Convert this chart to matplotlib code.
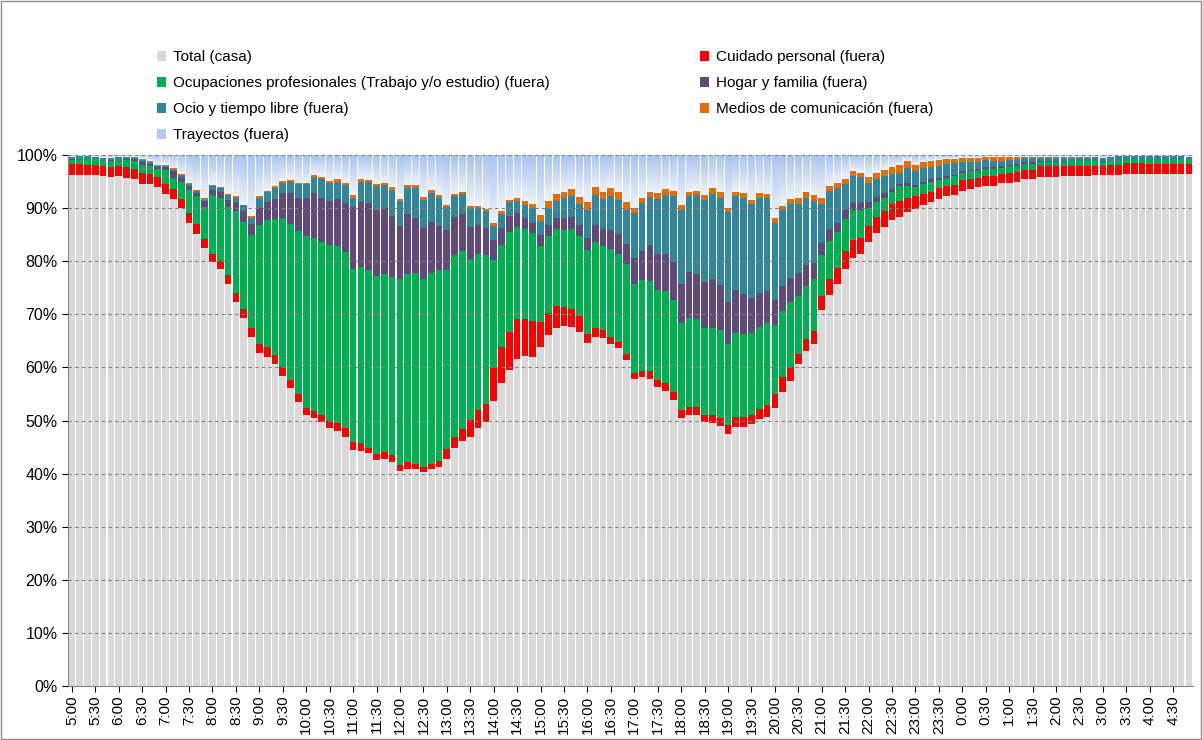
import numpy as np
import matplotlib
matplotlib.use('Agg')
import matplotlib.pyplot as plt
from matplotlib.colors import LinearSegmentedColormap
from matplotlib.patches import Patch, Rectangle
from matplotlib.ticker import FuncFormatter

plt.rcParams['font.family'] = ['Liberation Sans', 'DejaVu Sans']

# franjas de 10 minutos desde las 5:00 hasta las 4:50 (144 barras)
horas = list(range(5, 24)) + list(range(0, 5))
etiquetas = []
for h in horas:
    etiquetas += ['%d:00' % h, '%d:30' % h]

nombres = ['Total (casa)', 'Cuidado personal (fuera)',
           'Ocupaciones profesionales (Trabajo y/o estudio) (fuera)',
           'Hogar y familia (fuera)', 'Ocio y tiempo libre (fuera)',
           'Medios de comunicación (fuera)', 'Trayectos (fuera)']

casa = [96.3, 96.3, 96.3, 96.2, 96.0, 95.8, 96.0, 95.7, 95.5, 94.6, 94.6, 93.9,
        92.6, 91.8, 90.0, 87.2, 85.1, 82.5, 79.8, 78.6, 75.7, 72.3, 69.4, 65.8,
        62.8, 61.9, 60.6, 58.4, 56.2, 53.5, 51.0, 50.5, 49.7, 48.6, 48.0, 46.9,
        44.5, 44.3, 43.8, 42.5, 42.8, 42.2, 40.4, 40.9, 40.8, 40.3, 40.9, 41.3,
        42.8, 44.8, 46.1, 46.9, 48.6, 49.7, 53.7, 57.1, 59.6, 61.6, 62.2, 62.0,
        63.9, 66.1, 67.4, 67.8, 67.7, 66.6, 64.6, 65.7, 65.5, 64.4, 63.6, 61.4,
        57.8, 58.2, 57.9, 56.4, 55.5, 53.8, 50.5, 51.0, 51.0, 49.7, 49.6, 49.0,
        47.4, 48.8, 48.8, 49.4, 50.3, 50.7, 52.3, 55.4, 57.5, 60.6, 63.0, 64.5,
        70.8, 73.6, 75.7, 78.5, 80.6, 81.4, 83.6, 85.4, 86.5, 87.8, 88.4, 89.2,
        89.8, 90.6, 91.1, 91.7, 92.2, 92.4, 93.3, 93.6, 93.9, 94.2, 94.2, 94.7,
        94.8, 95.0, 95.5, 95.5, 95.8, 95.8, 95.8, 96.0, 96.0, 96.0, 96.0, 96.2,
        96.2, 96.2, 96.3, 96.4, 96.4, 96.4, 96.4, 96.4, 96.4, 96.4, 96.4, 96.4]

cuidado = [2.0, 2.0, 1.9, 2.0, 2.0, 2.0, 2.0, 2.1, 1.9, 2.1, 1.8, 1.9,
           1.9, 1.8, 1.8, 1.8, 1.9, 1.7, 1.6, 1.5, 1.7, 1.7, 1.6, 1.6,
           1.6, 1.9, 1.7, 1.7, 1.5, 1.5, 1.3, 1.3, 1.3, 1.4, 1.6, 1.6,
           1.5, 1.4, 1.1, 1.1, 1.3, 1.3, 1.3, 1.2, 1.1, 1.0, 1.0, 1.0,
           1.8, 2.1, 2.3, 3.2, 3.3, 3.5, 6.1, 6.7, 7.0, 7.5, 7.0, 6.7,
           4.7, 4.2, 4.2, 3.6, 3.3, 3.0, 1.7, 1.7, 1.5, 1.4, 1.1, 1.1,
           1.2, 1.1, 1.4, 1.3, 1.6, 1.5, 1.4, 1.6, 1.5, 1.4, 1.5, 1.5,
           1.7, 1.9, 1.9, 1.6, 1.8, 2.2, 2.6, 2.7, 2.5, 2.0, 2.3, 2.4,
           2.7, 3.1, 3.1, 3.5, 3.4, 2.9, 3.1, 3.0, 3.0, 3.0, 2.9, 2.7,
           2.4, 2.1, 2.0, 2.1, 2.0, 2.0, 2.0, 1.9, 1.8, 1.9, 1.9, 1.8,
           1.9, 1.8, 1.7, 1.7, 2.1, 2.1, 2.1, 2.0, 2.0, 2.0, 2.0, 1.8,
           1.8, 2.0, 1.9, 2.1, 2.1, 2.1, 2.0, 2.0, 2.0, 2.0, 2.0, 2.0]

ocupaciones = [0.8, 1.1, 1.2, 0.8, 0.8, 1.1, 1.2, 1.3, 1.5, 1.5, 1.5, 1.6,
               2.7, 2.1, 3.2, 4.5, 5.2, 6.1, 11.0, 11.8, 12.9, 15.5, 16.4, 17.6,
               22.5, 24.0, 25.7, 28.0, 29.3, 30.7, 32.4, 32.5, 32.7, 33.0, 33.2, 33.3,
               32.6, 33.2, 33.4, 33.6, 33.5, 33.6, 34.9, 35.4, 35.8, 35.4, 35.8, 36.0,
               33.8, 34.2, 33.5, 30.3, 29.5, 28.0, 20.5, 19.3, 18.9, 17.3, 16.9, 16.6,
               14.3, 14.4, 14.5, 14.5, 15.1, 15.2, 15.9, 16.2, 15.9, 16.5, 16.7, 16.9,
               16.8, 17.2, 17.0, 16.9, 17.2, 17.4, 16.4, 16.8, 16.7, 16.4, 16.4, 16.5,
               15.4, 15.8, 15.5, 15.5, 15.6, 15.4, 13.1, 12.6, 12.4, 10.9, 10.0, 9.7,
               7.7, 7.2, 6.7, 6.0, 5.7, 5.3, 3.3, 2.7, 2.5, 2.3, 2.8, 2.3,
               1.7, 1.8, 1.9, 1.5, 1.5, 1.6, 1.3, 1.4, 1.3, 1.3, 1.3, 1.0,
               1.2, 1.2, 1.2, 1.2, 0.8, 0.8, 0.8, 0.7, 0.8, 0.8, 0.8, 1.0,
               0.7, 0.6, 0.7, 0.6, 0.6, 0.6, 0.7, 0.7, 0.7, 0.7, 0.7, 0.7]

hogar = [0.1, 0.0, 0.0, 0.1, 0.1, 0.1, 0.0, 0.2, 0.3, 0.5, 0.4, 0.4,
         0.5, 1.2, 0.9, 0.7, 0.6, 1.0, 1.1, 1.2, 1.3, 1.6, 2.1, 2.0,
         3.1, 3.3, 3.8, 4.7, 5.9, 6.2, 7.2, 8.5, 8.3, 8.3, 8.9, 9.1,
         11.7, 12.2, 12.6, 12.5, 12.4, 11.5, 10.1, 11.4, 10.5, 9.5, 9.6, 8.4,
         7.5, 7.3, 7.0, 6.1, 5.5, 5.0, 3.7, 3.1, 3.1, 2.7, 2.1, 1.9,
         2.1, 2.2, 2.0, 2.3, 2.3, 2.1, 2.1, 3.3, 3.1, 3.6, 3.7, 3.8,
         4.8, 5.5, 6.8, 6.7, 7.1, 7.1, 7.4, 8.5, 8.4, 8.5, 9.1, 8.5,
         7.9, 8.1, 7.6, 6.5, 6.3, 6.1, 4.7, 4.6, 4.5, 4.3, 4.0, 3.1,
         2.2, 2.1, 1.7, 1.6, 1.3, 1.4, 1.1, 1.0, 0.9, 0.5, 0.5, 0.5,
         0.4, 0.5, 0.5, 0.4, 0.3, 0.3, 0.3, 0.3, 0.4, 0.3, 0.3, 0.4,
         0.3, 0.3, 0.2, 0.2, 0.1, 0.1, 0.1, 0.1, 0.1, 0.1, 0.1, 0.0,
         0.1, 0.1, 0.0, 0.0, 0.0, 0.0, 0.0, 0.0, 0.0, 0.0, 0.0, 0.0]

ocio = [0.5, 0.4, 0.4, 0.6, 0.5, 0.5, 0.5, 0.3, 0.2, 0.4, 0.4, 0.2,
        0.2, 0.3, 0.3, 0.3, 0.4, 0.3, 0.7, 0.7, 0.8, 0.9, 1.0, 1.1,
        1.9, 1.9, 1.9, 2.0, 2.0, 2.6, 2.7, 3.1, 3.5, 3.4, 3.2, 3.5,
        1.7, 3.9, 4.0, 4.5, 4.3, 4.9, 4.6, 4.9, 5.5, 5.3, 5.5, 5.2,
        4.3, 3.8, 3.7, 3.5, 3.1, 3.2, 2.7, 2.7, 2.5, 2.2, 2.4, 2.8,
        2.6, 3.1, 3.3, 3.7, 3.9, 3.9, 5.3, 5.6, 5.8, 6.3, 6.5, 6.5,
        8.5, 8.9, 9.0, 10.5, 11.1, 12.4, 13.9, 14.3, 14.8, 15.6, 16.1, 16.5,
        16.8, 17.6, 18.1, 17.8, 18.0, 17.5, 14.5, 14.3, 13.9, 13.0, 12.6, 11.7,
        7.4, 7.3, 6.6, 4.9, 5.0, 4.8, 3.7, 3.4, 3.1, 2.9, 2.1, 2.8,
        2.7, 2.5, 2.2, 2.3, 2.4, 2.2, 1.8, 1.5, 1.3, 1.3, 1.2, 1.0,
        0.9, 0.9, 0.8, 0.8, 0.6, 0.6, 0.6, 0.6, 0.5, 0.5, 0.5, 0.6,
        0.6, 0.8, 0.9, 0.8, 0.8, 0.8, 0.8, 0.8, 0.8, 0.8, 0.8, 0.6]

medios = [0.0, 0.0, 0.0, 0.0, 0.0, 0.0, 0.0, 0.0, 0.2, 0.1, 0.2, 0.2,
          0.3, 0.3, 0.2, 0.2, 0.3, 0.3, 0.2, 0.2, 0.2, 0.2, 0.1, 0.5,
          0.4, 0.3, 0.4, 0.4, 0.4, 0.3, 0.2, 0.4, 0.3, 0.5, 0.5, 0.4,
          0.4, 0.4, 0.4, 0.4, 0.5, 0.4, 0.5, 0.6, 0.6, 0.6, 0.7, 0.5,
          0.4, 0.5, 0.5, 0.4, 0.4, 0.4, 0.5, 0.5, 0.4, 0.6, 0.7, 0.8,
          1.1, 1.3, 1.2, 1.2, 1.3, 1.3, 1.5, 1.4, 1.3, 1.6, 1.5, 1.4,
          1.0, 1.0, 1.0, 1.0, 1.1, 1.1, 0.9, 0.8, 0.9, 0.9, 1.0, 1.0,
          0.9, 0.9, 0.9, 0.8, 0.8, 0.8, 0.9, 0.8, 1.0, 1.1, 1.1, 1.0,
          1.1, 0.9, 0.9, 0.9, 0.9, 0.8, 1.0, 1.1, 1.1, 1.2, 1.5, 1.3,
          1.2, 1.2, 1.1, 1.0, 0.9, 0.8, 0.7, 0.7, 0.7, 0.6, 0.7, 0.7,
          0.5, 0.4, 0.3, 0.3, 0.3, 0.3, 0.3, 0.2, 0.2, 0.2, 0.2, 0.1,
          0.1, 0.0, 0.0, 0.0, 0.0, 0.0, 0.0, 0.0, 0.0, 0.0, 0.0, 0.0]

trayectos = [0.3, 0.2, 0.2, 0.3, 0.6, 0.5, 0.3, 0.4, 0.4, 0.8, 1.1, 1.8,
             1.8, 2.5, 3.6, 5.3, 6.5, 8.1, 5.6, 6.0, 7.4, 7.8, 9.4, 11.4,
             7.7, 6.7, 5.9, 4.8, 4.7, 5.2, 5.2, 3.7, 4.2, 4.8, 4.6, 5.2,
             7.6, 4.6, 4.7, 5.4, 5.2, 6.1, 8.2, 5.6, 5.7, 7.9, 6.5, 7.6,
             9.4, 7.3, 6.9, 9.6, 9.6, 10.2, 12.8, 10.6, 8.5, 8.1, 8.7, 9.2,
             11.3, 8.7, 7.4, 6.9, 6.4, 7.9, 8.9, 6.1, 6.9, 6.2, 6.9, 8.9,
             9.9, 8.1, 6.9, 7.2, 6.4, 6.7, 9.5, 7.0, 6.7, 7.5, 6.3, 7.0,
             9.9, 6.9, 7.2, 8.4, 7.2, 7.3, 11.9, 9.6, 8.2, 8.1, 7.0, 7.6,
             8.1, 5.8, 5.3, 4.6, 3.1, 3.4, 4.2, 3.4, 2.9, 2.3, 1.8, 1.2,
             1.8, 1.3, 1.2, 1.0, 0.7, 0.7, 0.6, 0.6, 0.6, 0.4, 0.4, 0.4,
             0.4, 0.4, 0.3, 0.3, 0.3, 0.3, 0.3, 0.4, 0.4, 0.4, 0.4, 0.3,
             0.5, 0.3, 0.2, 0.1, 0.1, 0.1, 0.1, 0.1, 0.1, 0.1, 0.1, 0.3]

series = [casa, cuidado, ocupaciones, hogar, ocio, medios, trayectos]
colores = ['#d9d9d9', '#ff0000', '#00b050', '#604a7b', '#31859c', '#e46c0a', '#b3cbf2']

fig = plt.figure(figsize=(12.03, 7.40), dpi=100)
ax = fig.add_axes([0.0565, 0.073, 0.935, 0.7175])

x = np.arange(len(casa))
ancho = 0.86
base = np.zeros(len(casa))
for s, c in zip(series[:-1], colores[:-1]):
    v = np.array(s)
    ax.bar(x, v, ancho, bottom=base, color=c, linewidth=0, zorder=2)
    base = base + v

# trayectos con degradado vertical (azul arriba, casi blanco abajo)
grad = LinearSegmentedColormap.from_list('tray', ['#eef2f8', '#a9c4f2'])
tr = ax.bar(x, trayectos, ancho, bottom=base, color='none', linewidth=0, zorder=2)
g = np.linspace(0, 1, 64).reshape(-1, 1)
for p in tr:
    x0, y0, w, h = p.get_x(), p.get_y(), p.get_width(), p.get_height()
    if h <= 0:
        continue
    ax.imshow(g, extent=[x0, x0 + w, y0, y0 + h], origin='lower', cmap=grad,
              aspect='auto', zorder=2, interpolation='bilinear')

ax.set_xlim(-0.5, len(casa) - 0.5)
ax.set_ylim(0, 100)
ax.set_aspect('auto')

ax.set_yticks(np.arange(0, 101, 10))
ax.yaxis.set_major_formatter(FuncFormatter(lambda v, p: '%d%%' % v))
ax.set_xticks(np.arange(0, len(casa), 3))
ax.set_xticklabels(etiquetas, rotation=90)
ax.tick_params(axis='y', labelsize=11.5, length=4, width=0.8)
ax.tick_params(axis='x', labelsize=11, length=4, width=0.8, pad=3)

ax.yaxis.grid(True, linestyle=(0, (3, 3)), color='#7f7f7f', linewidth=0.8, zorder=3)
ax.set_axisbelow(False)
for s in ['top', 'right']:
    ax.spines[s].set_visible(False)
for s in ['left', 'bottom']:
    ax.spines[s].set_color('#868686')
    ax.spines[s].set_zorder(4)

# leyenda en dos columnas como en el original
h = [Patch(facecolor=c, edgecolor='none') for c in colores]
izq = [0, 2, 4, 6]
der = [1, 3, 5]
kw = dict(frameon=False, fontsize=11, handlelength=0.6, handleheight=0.6,
          handletextpad=0.45, labelspacing=0.78, borderpad=0, borderaxespad=0,
          loc='upper left')
fig.legend([h[i] for i in izq], [nombres[i] for i in izq],
           bbox_to_anchor=(0.1305, 0.932), **kw)
fig.legend([h[i] for i in der], [nombres[i] for i in der],
           bbox_to_anchor=(0.5815, 0.932), **kw)

fig.patches.append(Rectangle((0.0005, 0.001), 0.998, 0.998, transform=fig.transFigure,
                             fill=False, edgecolor='#8c8c8c', linewidth=1))

fig.savefig('out.png', dpi=100)
